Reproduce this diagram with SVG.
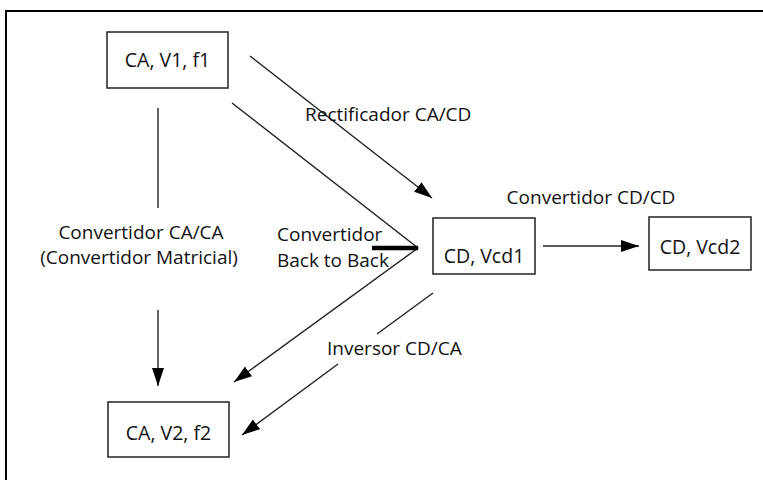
<svg xmlns="http://www.w3.org/2000/svg" width="763" height="480" viewBox="0 0 763 480">
<style>
.box{fill:#fff;stroke:#222;stroke-width:1.5}
.bt{font-family:"Open Sans","Liberation Sans",sans-serif;font-size:19.5px;fill:#111;text-anchor:middle}
.lt{font-family:"Open Sans","Liberation Sans",sans-serif;font-size:19px;fill:#111}
.ln{stroke:#222;stroke-width:1.4;fill:none}
</style>
<defs>
<marker id="ah" viewBox="0 0 18 12" refX="18" refY="6" markerWidth="18" markerHeight="12" markerUnits="userSpaceOnUse" orient="auto">
<path d="M0,0 L18,6 L0,12 Z" fill="#000"/>
</marker>
</defs>
<rect x="6" y="11" width="800" height="520" fill="#fff" stroke="#000" stroke-width="2"/>
<g id="connectors">
<line class="ln" x1="158" y1="108" x2="158" y2="208"/>
<line class="ln" x1="158" y1="310" x2="158" y2="386" marker-end="url(#ah)"/>
<line class="ln" x1="250" y1="56" x2="432" y2="198" marker-end="url(#ah)"/>
<polyline class="ln" points="232,103 418,248 234,382" marker-end="url(#ah)"/>
<line x1="372" y1="248" x2="418" y2="248" stroke="#000" stroke-width="4.5"/>
<line class="ln" x1="543" y1="246" x2="639" y2="246" marker-end="url(#ah)"/>
<line class="ln" x1="433" y1="293" x2="377" y2="334"/>
<line class="ln" x1="338" y1="364" x2="242" y2="435" marker-end="url(#ah)"/>
<text class="lt" x="305" y="121">Rectificador CA/CD</text>
<text class="lt" x="591" y="204" text-anchor="middle">Convertidor CD/CD</text>
<text class="lt" x="141" y="239" text-anchor="middle">Convertidor CA/CA</text>
<text class="lt" x="139" y="264" text-anchor="middle">(Convertidor Matricial)</text>
<text class="lt" x="277" y="241">Convertidor</text>
<text class="lt" x="277" y="267">Back to Back</text>
<text class="lt" x="327" y="355">Inversor CD/CA</text>
</g>
<g id="n-ca1">
<rect class="box" x="107" y="32" width="121" height="56"/>
<text class="bt" x="167.5" y="67">CA, V1, f1</text>
</g>
<g id="n-cd1">
<rect class="box" x="433" y="218" width="102" height="56"/>
<text class="bt" x="484" y="263">CD, Vcd1</text>
</g>
<g id="n-cd2">
<rect class="box" x="649" y="217" width="102" height="53"/>
<text class="bt" x="700" y="254">CD, Vcd2</text>
</g>
<g id="n-ca2">
<rect class="box" x="108" y="402" width="121" height="55"/>
<text class="bt" x="168.5" y="440">CA, V2, f2</text>
</g>
</svg>
